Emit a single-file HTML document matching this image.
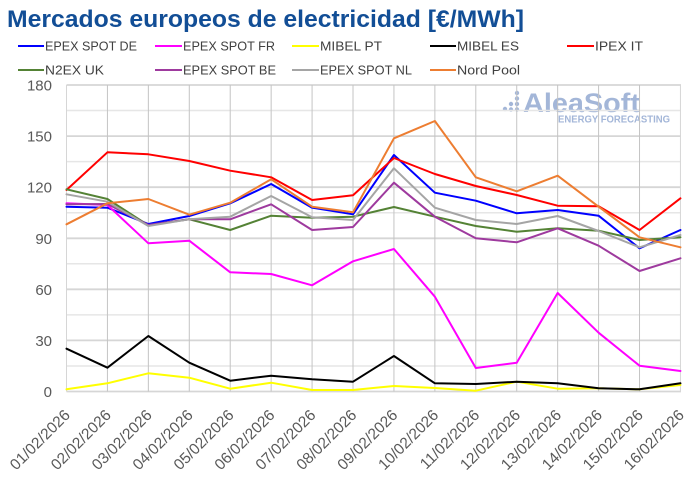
<!DOCTYPE html>
<html>
<head>
<meta charset="utf-8">
<style>
html,body{margin:0;padding:0;background:#fff;}
svg{display:block;}
text{font-family:"Liberation Sans",sans-serif;}
</style>
</head>
<body>
<svg width="696" height="485" viewBox="0 0 696 485" xmlns="http://www.w3.org/2000/svg">
<rect width="696" height="485" fill="#fff"/>
<!-- Title -->
<text x="7" y="27" font-size="24" font-weight="bold" fill="#124E96" textLength="517" lengthAdjust="spacingAndGlyphs">Mercados europeos de electricidad [€/MWh]</text>

<!-- Legend -->
<g font-size="13" fill="#404040">
  <line x1="18" y1="46" x2="44" y2="46" stroke="#0000FF" stroke-width="2"/>
  <text x="45" y="50.5" textLength="92" lengthAdjust="spacingAndGlyphs">EPEX SPOT DE</text>
  <line x1="155" y1="46" x2="182" y2="46" stroke="#FF00FF" stroke-width="2"/>
  <text x="183" y="50.5" textLength="92" lengthAdjust="spacingAndGlyphs">EPEX SPOT FR</text>
  <line x1="292" y1="46" x2="319" y2="46" stroke="#FFFF00" stroke-width="2"/>
  <text x="320" y="50.5" textLength="62" lengthAdjust="spacingAndGlyphs">MIBEL PT</text>
  <line x1="430" y1="46" x2="456" y2="46" stroke="#000000" stroke-width="2"/>
  <text x="457" y="50.5" textLength="62" lengthAdjust="spacingAndGlyphs">MIBEL ES</text>
  <line x1="567" y1="46" x2="594" y2="46" stroke="#FF0000" stroke-width="2"/>
  <text x="595" y="50.5" textLength="48" lengthAdjust="spacingAndGlyphs">IPEX IT</text>

  <line x1="18" y1="70" x2="44" y2="70" stroke="#548235" stroke-width="2"/>
  <text x="45" y="74.5" textLength="59" lengthAdjust="spacingAndGlyphs">N2EX UK</text>
  <line x1="155" y1="70" x2="182" y2="70" stroke="#9E3A9E" stroke-width="2"/>
  <text x="183" y="74.5" textLength="93" lengthAdjust="spacingAndGlyphs">EPEX SPOT BE</text>
  <line x1="292" y1="70" x2="319" y2="70" stroke="#A5A5A5" stroke-width="2"/>
  <text x="320" y="74.5" textLength="92" lengthAdjust="spacingAndGlyphs">EPEX SPOT NL</text>
  <line x1="430" y1="70" x2="456" y2="70" stroke="#ED7D31" stroke-width="2"/>
  <text x="457" y="74.5" textLength="63" lengthAdjust="spacingAndGlyphs">Nord Pool</text>
</g>

<!-- Logo (behind grid) -->
<g fill="#A3B6D8">
  <circle cx="505" cy="109" r="2.2"/>
  <circle cx="511" cy="104" r="2.2"/>
  <circle cx="511" cy="109.5" r="2.2"/>
  <circle cx="517" cy="93" r="2.2"/>
  <circle cx="517" cy="98.5" r="2.2"/>
  <circle cx="517" cy="104" r="2.2"/>
  <circle cx="517" cy="109.5" r="2.2"/>
  <text x="523" y="112" font-size="27" font-weight="bold" textLength="117" lengthAdjust="spacingAndGlyphs">AleaSoft</text>
  <text x="558" y="122.5" font-size="10" font-weight="bold" textLength="112" lengthAdjust="spacingAndGlyphs">ENERGY FORECASTING</text>
</g>

<!-- Horizontal grid: minor -->
<g stroke="#E6E6E6" stroke-width="1.5">
  <line x1="66.5" y1="365.96" x2="681" y2="365.96"/>
  <line x1="66.5" y1="314.9" x2="681" y2="314.9"/>
  <line x1="66.5" y1="263.8" x2="681" y2="263.8"/>
  <line x1="66.5" y1="212.7" x2="681" y2="212.7"/>
  <line x1="66.5" y1="161.6" x2="681" y2="161.6"/>
  <line x1="66.5" y1="110.5" x2="681" y2="110.5"/>
</g>
<!-- Horizontal grid: major -->
<g stroke="#D6D6D6" stroke-width="1.8">
  <line x1="66.5" y1="391.5" x2="681" y2="391.5"/>
  <line x1="66.5" y1="340.4" x2="681" y2="340.4"/>
  <line x1="66.5" y1="289.3" x2="681" y2="289.3"/>
  <line x1="66.5" y1="238.3" x2="681" y2="238.3"/>
  <line x1="66.5" y1="187.2" x2="681" y2="187.2"/>
  <line x1="66.5" y1="136.1" x2="681" y2="136.1"/>
  <line x1="66.5" y1="85" x2="681" y2="85"/>
</g>
<!-- Vertical grid -->
<g stroke="#C4C4C4" stroke-width="1">
  <line x1="66.5" y1="85" x2="66.5" y2="391.5" stroke="#D6D6D6"/>
  <line x1="107.43" y1="85" x2="107.43" y2="391.5"/>
  <line x1="148.36" y1="85" x2="148.36" y2="391.5"/>
  <line x1="189.29" y1="85" x2="189.29" y2="391.5"/>
  <line x1="230.22" y1="85" x2="230.22" y2="391.5"/>
  <line x1="271.15" y1="85" x2="271.15" y2="391.5"/>
  <line x1="312.08" y1="85" x2="312.08" y2="391.5"/>
  <line x1="353.01" y1="85" x2="353.01" y2="391.5"/>
  <line x1="393.94" y1="85" x2="393.94" y2="391.5"/>
  <line x1="434.87" y1="85" x2="434.87" y2="391.5"/>
  <line x1="475.8" y1="85" x2="475.8" y2="391.5"/>
  <line x1="516.73" y1="85" x2="516.73" y2="391.5"/>
  <line x1="557.66" y1="85" x2="557.66" y2="391.5"/>
  <line x1="598.59" y1="85" x2="598.59" y2="391.5"/>
  <line x1="639.52" y1="85" x2="639.52" y2="391.5"/>
  <line x1="680.45" y1="85" x2="680.45" y2="391.5" stroke="#D6D6D6"/>
</g>

<!-- Y labels -->
<g font-size="15" fill="#595959" text-anchor="end">
  <text x="52" y="397">0</text>
  <text x="52" y="345.9">30</text>
  <text x="52" y="294.8">60</text>
  <text x="52" y="243.8">90</text>
  <text x="52" y="192.7">120</text>
  <text x="52" y="141.6">150</text>
  <text x="52" y="90.5">180</text>
</g>

<!-- Series -->
<g fill="none" stroke-width="2" stroke-linejoin="round" stroke-linecap="round">
  <!-- EPEX SPOT DE -->
  <polyline stroke="#0000FF" points="66.5,206.7 107.43,207.7 148.36,224 189.29,216 230.22,203.3 271.15,184 312.08,207.7 353.01,214.3 393.94,155 434.87,192.7 475.8,200.7 516.73,213.3 557.66,210 598.59,215.7 639.52,248.3 680.45,230"/>
  <!-- EPEX SPOT FR -->
  <polyline stroke="#FF00FF" points="66.5,203.3 107.43,205 148.36,243.3 189.29,240.7 230.22,272.3 271.15,274 312.08,285.3 353.01,261.3 393.94,249 434.87,296.7 475.8,368 516.73,362.7 557.66,293 598.59,332.7 639.52,365.7 680.45,371"/>
  <!-- MIBEL PT -->
  <polyline stroke="#FFFF00" points="66.5,389.3 107.43,383.3 148.36,373.3 189.29,377.7 230.22,388.7 271.15,382.7 312.08,390 353.01,390 393.94,386 434.87,388 475.8,390.7 516.73,381.7 557.66,388.7 598.59,388.3 639.52,389.3 680.45,385"/>
  <!-- MIBEL ES -->
  <polyline stroke="#000000" points="66.5,348.7 107.43,367.7 148.36,336 189.29,362.7 230.22,380.7 271.15,375.7 312.08,379.3 353.01,381.7 393.94,356 434.87,383.3 475.8,384 516.73,381.7 557.66,383.3 598.59,388.3 639.52,389.3 680.45,383.3"/>
  <!-- IPEX IT -->
  <polyline stroke="#FF0000" points="66.5,190 107.43,152.3 148.36,154.3 189.29,161 230.22,170.7 271.15,177.3 312.08,200 353.01,195.3 393.94,158 434.87,174 475.8,186 516.73,195 557.66,205.7 598.59,206.3 639.52,230 680.45,198.3"/>
  <!-- N2EX UK -->
  <polyline stroke="#548235" points="66.5,189.3 107.43,199 148.36,225.3 189.29,219.3 230.22,230 271.15,215.7 312.08,217.7 353.01,216.7 393.94,207 434.87,216.7 475.8,226 516.73,231.7 557.66,228.3 598.59,230.7 639.52,240 680.45,237.3"/>
  <!-- EPEX SPOT BE -->
  <polyline stroke="#9E3A9E" points="66.5,204.3 107.43,204 148.36,225 189.29,219.3 230.22,219.3 271.15,204.3 312.08,230 353.01,227 393.94,182.7 434.87,216.7 475.8,238.3 516.73,242.3 557.66,228.3 598.59,245.7 639.52,271 680.45,258.3"/>
  <!-- EPEX SPOT NL -->
  <polyline stroke="#A5A5A5" points="66.5,194.3 107.43,201.7 148.36,226 189.29,219.3 230.22,216.7 271.15,196 312.08,217.3 353.01,220 393.94,168.3 434.87,207.7 475.8,220 516.73,224 557.66,216 598.59,231 639.52,247.3 680.45,235"/>
  <!-- Nord Pool -->
  <polyline stroke="#ED7D31" points="66.5,224.3 107.43,203.3 148.36,199 189.29,214.7 230.22,202.7 271.15,179.3 312.08,206.7 353.01,212.3 393.94,138.3 434.87,121 475.8,177.3 516.73,191.3 557.66,175.7 598.59,206.7 639.52,237.3 680.45,247.3"/>
</g>

<!-- X labels -->
<g font-size="15.5" fill="#595959" text-anchor="end">
  <text transform="translate(71,416) rotate(-45)">01/02/2026</text>
  <text transform="translate(111.93,416) rotate(-45)">02/02/2026</text>
  <text transform="translate(152.86,416) rotate(-45)">03/02/2026</text>
  <text transform="translate(193.79,416) rotate(-45)">04/02/2026</text>
  <text transform="translate(234.72,416) rotate(-45)">05/02/2026</text>
  <text transform="translate(275.65,416) rotate(-45)">06/02/2026</text>
  <text transform="translate(316.58,416) rotate(-45)">07/02/2026</text>
  <text transform="translate(357.51,416) rotate(-45)">08/02/2026</text>
  <text transform="translate(398.44,416) rotate(-45)">09/02/2026</text>
  <text transform="translate(439.37,416) rotate(-45)">10/02/2026</text>
  <text transform="translate(480.3,416) rotate(-45)">11/02/2026</text>
  <text transform="translate(521.23,416) rotate(-45)">12/02/2026</text>
  <text transform="translate(562.16,416) rotate(-45)">13/02/2026</text>
  <text transform="translate(603.09,416) rotate(-45)">14/02/2026</text>
  <text transform="translate(644.02,416) rotate(-45)">15/02/2026</text>
  <text transform="translate(684.95,416) rotate(-45)">16/02/2026</text>
</g>
</svg>
</body>
</html>
